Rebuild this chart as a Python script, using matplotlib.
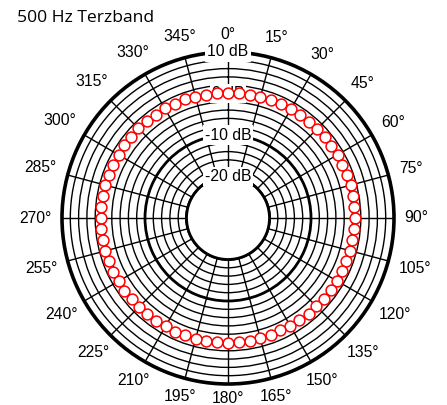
import numpy as np
import matplotlib
matplotlib.use("Agg")
import matplotlib.pyplot as plt

# Messwerte: Pegel (dB) alle 5 Grad, 500 Hz Terzband
angles_deg = list(range(0, 360, 5))
level_db = [
    0.2, 0.3, 0.1, 0.2, 0.3, 0.2, 0.3, 0.4, 0.3, 0.4, 0.5, 0.4,
    0.5, 0.4, 0.5, 0.6, 0.5, 0.5, 0.6, 0.5, 0.4, 0.5, 0.3, 0.4,
    0.3, 0.2, 0.3, 0.1, 0.2, 0.0, 0.1, -0.1, 0.0, -0.1, 0.0, -0.1,
    0.0, -0.1, 0.0, 0.1, 0.0, 0.2, 0.1, 0.3, 0.2, 0.4, 0.3, 0.5,
    0.4, 0.6, 0.5, 0.6, 0.5, 0.6, 0.5, 0.6, 0.5, 0.6, 0.5, 0.5,
    0.4, 0.5, 0.4, 0.5, 0.4, 0.4, 0.5, 0.3, 0.4, 0.3, 0.2, 0.3,
]

angle_ticks = list(range(0, 360, 15))
ring_ticks = list(range(-20, 11, 2))
ring_labels = {10: "10 dB", 0: "0 dB", -10: "-10 dB", -20: "-20 dB"}

W, H, DPI = 447, 405, 100
fig = plt.figure(figsize=(W / DPI, H / DPI), dpi=DPI)

cx, cy, R = 228, 218, 166
ax = fig.add_axes([(cx - R) / W, (H - cy - R) / H, 2 * R / W, 2 * R / H],
                  projection="polar")
ax.set_theta_zero_location("N")
ax.set_theta_direction(-1)
ax.set_ylim(-20, 10)
ax.set_rorigin(-30)

# Gitter
ax.set_rticks(ring_ticks)
ax.set_yticklabels([])
ax.set_thetagrids(angle_ticks, labels=[])
ax.grid(True, color="black", linewidth=1.0, linestyle="-")
for val, gl in zip(ring_ticks, ax.yaxis.get_gridlines()):
    if val in (-20, -10):
        gl.set_linewidth(2.0)
ax.spines["polar"].set_linewidth(2.6)
ax.spines["inner"].set_linewidth(2.0)
ax.tick_params(length=0)

# Winkelbeschriftung aussen
for a in angle_ticks:
    lab = f"{a}°"
    t = np.deg2rad(a)
    s, c = np.sin(t), np.cos(t)
    w = 8.5 * (len(lab) - 1) + 7
    h = 11
    off = 10.5 + 1.5 * c + 0.5 * w * abs(s) + 0.5 * h * abs(c)
    ax.annotate(lab, xy=(t, 10), xycoords="data",
                xytext=(off * s * 72 / DPI, off * c * 72 / DPI),
                textcoords="offset points", ha="center", va="center",
                fontsize=11.3, family="Liberation Sans", annotation_clip=False)

# Pegelbeschriftung entlang 0°
for r, lab in ring_labels.items():
    ax.text(0, r, lab, ha="center", va="center", fontsize=11.3,
            family="Liberation Sans", zorder=3,
            bbox=dict(facecolor="white", edgecolor="none", pad=1.5))

ax.plot(np.deg2rad(angles_deg), level_db, linestyle="none", marker="o",
        markersize=7.8, markerfacecolor="white", markeredgecolor="red",
        markeredgewidth=1.1, zorder=4, clip_on=False)

fig.text(17 / W, 1 - 22 / H, "500 Hz Terzband", fontsize=12.6,
         family="Open Sans", va="baseline", ha="left")

fig.savefig("out.png", dpi=DPI)
